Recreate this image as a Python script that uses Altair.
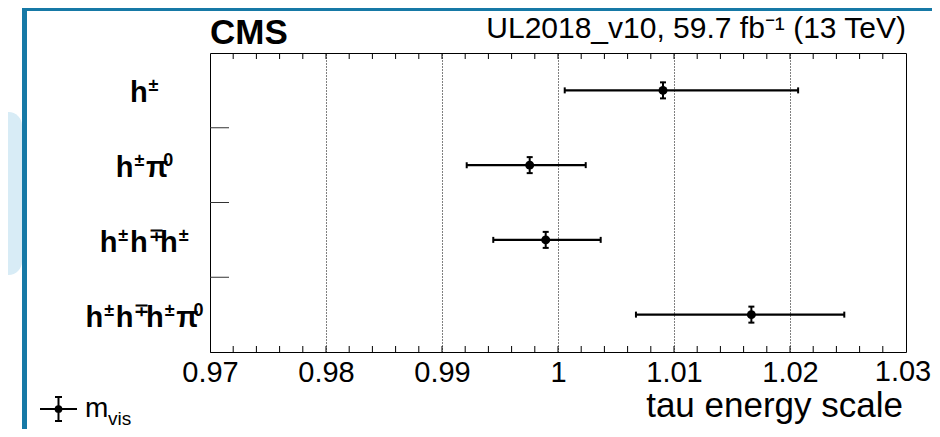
import altair as alt
import pandas as pd

# ---------------- data ----------------
categories = ["h±", "h±π0", "h±h∓h±", "h±h∓h±π0"]
positions = [0, 1, 2, 3]
tes_value = [1.00905, 0.99756, 0.99894, 1.01667]
tes_low = [1.00058, 0.99213, 0.99442, 1.00672]
tes_high = [1.02070, 1.00239, 1.00368, 1.02468]

x_tick_values = [0.97, 0.98, 0.99, 1.00, 1.01, 1.02, 1.03]
minor_tick_values = [0.972, 0.974, 0.976, 0.978, 0.980, 0.982, 0.984, 0.986, 0.988,
                     0.990, 0.992, 0.994, 0.996, 0.998, 1.000, 1.002, 1.004, 1.006,
                     1.008, 1.010, 1.012, 1.014, 1.016, 1.018, 1.020, 1.022, 1.024,
                     1.026, 1.028]
band_edges = [0.5, 1.5, 2.5]

# label pieces: (text, kind) kind m = main, s = superscript
label_parts = [
    [("h", "m"), ("±", "s")],
    [("h", "m"), ("±", "s"), ("π", "m"), ("0", "s")],
    [("h", "m"), ("±", "s"), ("h", "m"), ("∓", "s"), ("h", "m"), ("±", "s")],
    [("h", "m"), ("±", "s"), ("h", "m"), ("∓", "s"), ("h", "m"), ("±", "s"), ("π", "m"), ("0", "s")],
]

FONT = "Liberation Sans"
MAIN_SIZE = 29
SUP_SIZE = 18
TICK_SIZE = 29
W = 696
H = 299
adv = {"h": 0.611, "±": 0.584, "∓": 0.584, "π": 0.56, "0": 0.556}
GAP = 1.0
center_px = -65

rows = []
for pos, parts in zip(positions, label_parts):
    widths = [adv[t] * (MAIN_SIZE if k == "m" else SUP_SIZE) + GAP for t, k in parts]
    x = center_px - sum(widths) / 2
    for (t, k), w in zip(parts, widths):
        rows.append({"pos": pos, "txt": t, "kind": k, "px": x})
        x += w
seg = pd.DataFrame(rows)

df = pd.DataFrame({"cat": categories, "pos": positions, "val": tes_value,
                   "lo": tes_low, "hi": tes_high})
one = pd.DataFrame({"k": [0]})

xs = alt.Scale(domain=[0.97, 1.03], nice=False, zero=False)
ys = alt.Scale(domain=[-0.5, 3.5], reverse=True, nice=False, zero=False)

x_axis = alt.Axis(values=x_tick_values[:-1], labelExpr="format(datum.value, '.2~f')",
                  labelFont=FONT, labelFontSize=TICK_SIZE, labelColor="black",
                  labelPadding=6, ticks=False, domain=False, grid=True,
                  gridColor="black", gridDash=[1, 2], gridWidth=1, gridOpacity=1,
                  title=None, labelFlush=False, labelOverlap=False)


def X(field):
    return alt.X(field, scale=xs, axis=x_axis, title=None)


def Y(field):
    return alt.Y(field, scale=ys, axis=None, title=None)


bars = alt.Chart(df).mark_rule(color="black", strokeWidth=2.2).encode(
    x=X("lo:Q"), x2="hi:Q", y=Y("pos:Q"))
cap_lo = alt.Chart(df).mark_tick(color="black", orient="vertical", size=6, thickness=2, opacity=1).encode(
    x=X("lo:Q"), y=Y("pos:Q"))
cap_hi = alt.Chart(df).mark_tick(color="black", orient="vertical", size=6, thickness=2, opacity=1).encode(
    x=X("hi:Q"), y=Y("pos:Q"))
vbar = alt.Chart(df).mark_tick(color="black", orient="vertical", size=17, thickness=2, opacity=1).encode(
    x=X("val:Q"), y=Y("pos:Q"))
vcap_t = alt.Chart(df).mark_tick(color="black", orient="horizontal", size=6, thickness=2, opacity=1, yOffset=-8).encode(
    x=X("val:Q"), y=Y("pos:Q"))
vcap_b = alt.Chart(df).mark_tick(color="black", orient="horizontal", size=6, thickness=2, opacity=1, yOffset=8).encode(
    x=X("val:Q"), y=Y("pos:Q"))
dots = alt.Chart(df).mark_circle(color="black", size=80, opacity=1).encode(
    x=X("val:Q"), y=Y("pos:Q"))

# last tick label drawn separately so it stays inside the page
last_lab = alt.Chart(pd.DataFrame({"v": [x_tick_values[-1]]})).mark_text(
    align="center", baseline="top", font=FONT, fontSize=TICK_SIZE, color="black", dx=-3
).encode(x=X("v:Q"), y=alt.value(H + 6), text=alt.Text("v:Q", format=".2f"))

# inner ticks
mt = pd.DataFrame({"t": minor_tick_values})
top_ticks = alt.Chart(mt).mark_rule(color="black", strokeWidth=1).encode(
    x=X("t:Q"), y=alt.value(0), y2=alt.value(6))
bot_ticks = alt.Chart(mt).mark_rule(color="black", strokeWidth=1).encode(
    x=X("t:Q"), y=alt.value(H), y2=alt.value(H - 6))
be = pd.DataFrame({"b": band_edges})
left_ticks = alt.Chart(be).mark_rule(color="#333333", strokeWidth=1).encode(
    x=alt.value(0), x2=alt.value(19), y=Y("b:Q"))

# y labels
lab_main = alt.Chart(seg[seg.kind == "m"]).mark_text(
    align="left", baseline="alphabetic", font=FONT, fontSize=MAIN_SIZE,
    fontWeight="bold", color="black", dy=12).encode(
    x=alt.X("px:Q", scale=None, axis=None), y=Y("pos:Q"), text="txt:N")
lab_sup = alt.Chart(seg[seg.kind == "s"]).mark_text(
    align="left", baseline="alphabetic", font=FONT, fontSize=SUP_SIZE,
    fontWeight="bold", color="black", dy=1).encode(
    x=alt.X("px:Q", scale=None, axis=None), y=Y("pos:Q"), text="txt:N")

# texts
cms = alt.Chart(one).mark_text(text="CMS", align="left", baseline="alphabetic",
                               font=FONT, fontSize=35, fontWeight="bold", color="black"
                               ).encode(x=alt.value(0), y=alt.value(-9))
lumi = alt.Chart(one).mark_text(text="UL2018_v10, 59.7 fb⁻¹ (13 TeV)", align="right",
                                baseline="alphabetic", font=FONT, fontSize=30, color="black"
                                ).encode(x=alt.value(W), y=alt.value(-15))
xtitle = alt.Chart(one).mark_text(text="tau energy scale", align="right",
                                  baseline="alphabetic", font=FONT, fontSize=35, color="black"
                                  ).encode(x=alt.value(W - 3), y=alt.value(364))

# legend
leg_h = alt.Chart(one).mark_rule(color="black", strokeWidth=2).encode(
    x=alt.value(-170), x2=alt.value(-133), y=alt.value(356))
leg_v = alt.Chart(one).mark_rule(color="black", strokeWidth=2).encode(
    x=alt.value(-151.5), y=alt.value(344), y2=alt.value(368))
leg_ct = alt.Chart(one).mark_rule(color="black", strokeWidth=2).encode(
    x=alt.value(-155), x2=alt.value(-148), y=alt.value(344))
leg_cb = alt.Chart(one).mark_rule(color="black", strokeWidth=2).encode(
    x=alt.value(-155), x2=alt.value(-148), y=alt.value(368))
leg_dot = alt.Chart(one).mark_circle(color="black", size=60, opacity=1).encode(
    x=alt.value(-151.5), y=alt.value(356))
leg_m = alt.Chart(one).mark_text(text="m", align="left", baseline="alphabetic",
                                 font=FONT, fontSize=28, color="black").encode(
    x=alt.value(-125), y=alt.value(364))
leg_vis = alt.Chart(one).mark_text(text="vis", align="left", baseline="alphabetic",
                                   font=FONT, fontSize=19, color="black").encode(
    x=alt.value(-102), y=alt.value(372))

# frame decorations
blob = alt.Chart(one).mark_rect(color="#d8ecf6", cornerRadiusTopRight=16,
                                cornerRadiusBottomRight=16).encode(
    x=alt.value(-215), x2=alt.value(-188), y=alt.value(59), y2=alt.value(222))
left_bar = alt.Chart(one).mark_rect(color="#1679a6").encode(
    x=alt.value(-188), x2=alt.value(-183), y=alt.value(-45), y2=alt.value(376))
top_bar = alt.Chart(one).mark_rect(color="#1679a6").encode(
    x=alt.value(-188), x2=alt.value(722), y=alt.value(-45), y2=alt.value(-42))

chart = alt.layer(
    blob, left_bar, top_bar,
    top_ticks, bot_ticks, left_ticks,
    bars, cap_lo, cap_hi, vbar, vcap_t, vcap_b, dots, last_lab,
    lab_main, lab_sup, cms, lumi, xtitle,
    leg_h, leg_v, leg_ct, leg_cb, leg_dot, leg_m, leg_vis,
).properties(
    width=W, height=H,
    autosize=alt.AutoSizeParams(type="none"),
    padding={"left": 202, "top": 45, "right": 26, "bottom": 77},
    background="white",
).configure_view(stroke="black", strokeWidth=1)

chart.save("out.html", embed_options={"renderer": "svg", "actions": False})
